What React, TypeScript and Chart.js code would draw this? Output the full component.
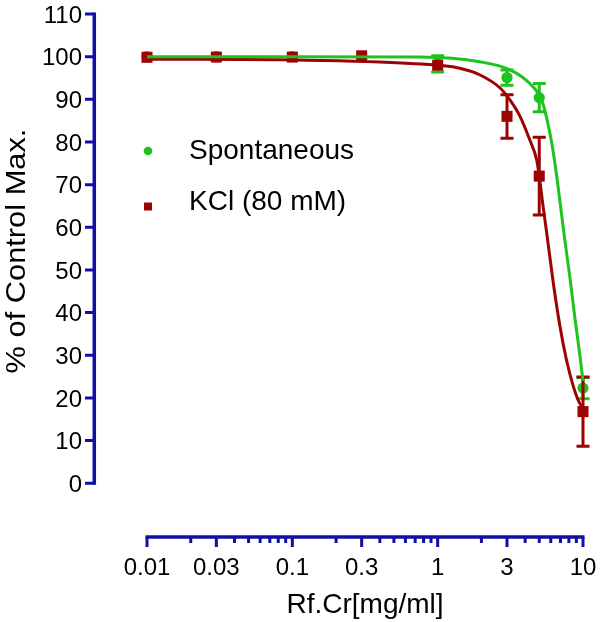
import React, { useEffect, useRef } from "react";
import { Chart, registerables } from "chart.js";

Chart.register(...registerables);

// ---- data ----
const doseX = [0.01, 0.03, 0.1, 0.3, 1, 3, 5, 10];
const spontY = [100, 100, 100, 100, 98.3, 95.1, 90.4, 22.3];
const spontErr = [0, 0, 0, 0, 1.9, 1.8, 3.3, 2.5];
const kclY = [99.85, 99.9, 99.9, 100.2, 98.0, 86.0, 72.0, 16.8];
const kclErr = [0, 0, 0, 0, 0, 5.1, 9.1, 8.1];

// fitted curves, points
const spontFitX = [0.01, 0.1, 0.75, 1.95, 3.15, 4.3, 5.2, 5.6, 6.1, 6.6, 6.95, 7.5, 8.15, 8.8, 9.55, 10];
const spontFitY = [100, 100, 99.9, 98.8, 96.9, 93.7, 89.8, 85.9, 79.7, 71.9, 65.9, 57.0, 47.9, 38.7, 29.6, 24.0];
const kclFitX = [0.01, 0.11, 0.65, 1.42, 1.96, 2.7, 3.15, 3.7, 4.3, 4.8, 5.0, 5.3, 5.63, 6.25, 6.95, 7.7, 8.6, 9.4, 10];
const kclFitY = [99.4, 99.2, 98.4, 97.3, 95.7, 92.6, 89.8, 85.9, 80.5, 75.8, 72.0, 65.2, 58.6, 46.9, 36.7, 28.9, 22.6, 19.0, 17.6];

const xTickValues = [0.01, 0.03, 0.1, 0.3, 1, 3, 10];
const xTickLabels = ["0.01", "0.03", "0.1", "0.3", "1", "3", "10"];
const xMinorTicks = [
  0.02, 0.04, 0.05, 0.06, 0.07, 0.08, 0.09,
  0.2, 0.4, 0.5, 0.6, 0.7, 0.8, 0.9,
  2, 4, 5, 6, 7, 8, 9,
];
const yTickValues = [0, 10, 20, 30, 40, 50, 60, 70, 80, 90, 100, 110];
const yTickLabels = yTickValues.map((v) => String(v));
const seriesNames = ["Spontaneous", "KCl (80 mM)"];
const xTitle = "Rf.Cr[mg/ml]";
const yTitle = "% of Control Max.";

const GREEN = "#1ec31e";
const RED = "#9c0303";
const AXIS = "#1010a6";
const FONT = "'Liberation Sans', Arial, sans-serif";

const errorSets: Record<number, { xs: number[]; ys: number[]; errs: number[]; color: string }> = {
  2: { xs: doseX, ys: kclY, errs: kclErr, color: RED },
  3: { xs: doseX, ys: spontY, errs: spontErr, color: GREEN },
};

const prismPlugin = {
  id: "prismAxes",
  beforeDatasetDraw(chart: any, args: any) {
    const set = errorSets[args.index];
    if (!set) return;
    const { ctx } = chart;
    const xs = chart.scales.x;
    const ys = chart.scales.y;
    ctx.save();
    ctx.strokeStyle = set.color;
    ctx.lineWidth = 3;
    for (let i = 0; i < set.xs.length; i++) {
      const e = set.errs[i];
      if (!e) continue;
      const px = xs.getPixelForValue(set.xs[i]);
      const top = ys.getPixelForValue(set.ys[i] + e);
      const bot = ys.getPixelForValue(set.ys[i] - e);
      ctx.beginPath();
      ctx.moveTo(px, top);
      ctx.lineTo(px, bot);
      ctx.moveTo(px - 6.5, top);
      ctx.lineTo(px + 6.5, top);
      ctx.moveTo(px - 6.5, bot);
      ctx.lineTo(px + 6.5, bot);
      ctx.stroke();
    }
    ctx.restore();
  },
  afterDraw(chart: any) {
    const { ctx } = chart;
    const xs = chart.scales.x;
    const ys = chart.scales.y;
    const area = chart.chartArea;
    ctx.save();
    ctx.strokeStyle = AXIS;
    ctx.lineCap = "butt";

    // Y axis (offset to the left, 0..110 only)
    const yAxisX = 94.3;
    const y0 = ys.getPixelForValue(0);
    const y110 = ys.getPixelForValue(110);
    ctx.lineWidth = 3.5;
    ctx.beginPath();
    ctx.moveTo(yAxisX, y0 + 1.5);
    ctx.lineTo(yAxisX, y110 - 1.5);
    ctx.stroke();
    ctx.lineWidth = 3;
    ctx.beginPath();
    yTickValues.forEach((v) => {
      const py = ys.getPixelForValue(v);
      ctx.moveTo(85, py);
      ctx.lineTo(yAxisX, py);
    });
    ctx.stroke();

    // X axis at bottom of chart area
    const xAxisY = area.bottom;
    const xl = xs.getPixelForValue(xTickValues[0]);
    const xr = xs.getPixelForValue(xTickValues[xTickValues.length - 1]);
    ctx.lineWidth = 3.5;
    ctx.beginPath();
    ctx.moveTo(xl - 1.5, xAxisY);
    ctx.lineTo(xr + 1.5, xAxisY);
    ctx.stroke();
    ctx.lineWidth = 3;
    ctx.beginPath();
    xTickValues.forEach((v) => {
      const px = xs.getPixelForValue(v);
      ctx.moveTo(px, xAxisY);
      ctx.lineTo(px, xAxisY + 10);
    });
    xMinorTicks.forEach((v) => {
      const px = xs.getPixelForValue(v);
      ctx.moveTo(px, xAxisY);
      ctx.lineTo(px, xAxisY + 6);
    });
    ctx.stroke();

    // tick labels
    ctx.fillStyle = "#000";
    ctx.font = `24px ${FONT}`;
    ctx.textBaseline = "alphabetic";
    ctx.textAlign = "right";
    yTickValues.forEach((v, i) => {
      const py = ys.getPixelForValue(v);
      ctx.fillText(yTickLabels[i], 82, py + 8.6);
    });
    ctx.textAlign = "center";
    xTickValues.forEach((v, i) => {
      const px = xs.getPixelForValue(v);
      ctx.fillText(xTickLabels[i], px, 575);
    });

    // axis titles
    ctx.font = `28px ${FONT}`;
    ctx.textAlign = "center";
    ctx.fillText(xTitle, (xl + xr) / 2, 612.5);

    ctx.save();
    ctx.translate(25, 251);
    ctx.rotate(-Math.PI / 2);
    ctx.scale(1.1, 1);
    ctx.textAlign = "center";
    ctx.fillText(yTitle, 0, 0);
    ctx.restore();

    // legend
    ctx.font = `28px ${FONT}`;
    ctx.textAlign = "left";
    ctx.fillStyle = GREEN;
    ctx.beginPath();
    ctx.arc(148, 151, 4.3, 0, Math.PI * 2);
    ctx.fill();
    ctx.fillStyle = RED;
    ctx.fillRect(144, 202.5, 8, 8);
    ctx.fillStyle = "#000";
    ctx.fillText(seriesNames[0], 189, 158.5);
    ctx.fillText(seriesNames[1], 189, 210);

    ctx.restore();
  },
};

export default function App() {
  const canvasRef = useRef<HTMLCanvasElement | null>(null);

  useEffect(() => {
    const canvas = canvasRef.current;
    if (!canvas) return;
    const pts = (xs: number[], ys: number[]) => xs.map((x, i) => ({ x, y: ys[i] }));
    const chart = new Chart(canvas, {
      type: "scatter",
      data: {
        datasets: [
          {
            label: seriesNames[0] + " fit",
            data: pts(spontFitX, spontFitY),
            showLine: true,
            borderColor: GREEN,
            backgroundColor: GREEN,
            borderWidth: 3,
            pointRadius: 0,
            cubicInterpolationMode: "monotone",
            order: 1,
            clip: false,
          },
          {
            label: seriesNames[1] + " fit",
            data: pts(kclFitX, kclFitY),
            showLine: true,
            borderColor: RED,
            backgroundColor: RED,
            borderWidth: 3,
            pointRadius: 0,
            cubicInterpolationMode: "monotone",
            order: 2,
            clip: false,
          },
          {
            label: seriesNames[1],
            data: pts(doseX, kclY),
            showLine: false,
            pointStyle: "rect",
            pointRadius: 7.8,
            pointBackgroundColor: RED,
            pointBorderColor: RED,
            pointBorderWidth: 0,
            order: 3,
            clip: false,
          },
          {
            label: seriesNames[0],
            data: pts(doseX, spontY),
            showLine: false,
            pointStyle: "circle",
            pointRadius: 5.6,
            pointBackgroundColor: GREEN,
            pointBorderColor: GREEN,
            pointBorderWidth: 0,
            order: 4,
            clip: false,
          },
        ] as any,
      },
      options: {
        responsive: false,
        maintainAspectRatio: false,
        animation: false,
        events: [],
        layout: { padding: { left: 147, right: 17, top: 14, bottom: 85 } },
        scales: {
          x: { type: "logarithmic", min: 0.01, max: 10, display: false },
          y: { type: "linear", min: -12.6, max: 110, display: false },
        },
        plugins: {
          legend: { display: false },
          tooltip: { enabled: false },
          title: { display: false },
        },
      },
      plugins: [prismPlugin],
    });
    return () => chart.destroy();
  }, []);

  return (
    <div style={{ position: "absolute", left: 0, top: 0, width: 600, height: 622, background: "#fff" }}>
      <canvas ref={canvasRef} width={600} height={622} style={{ display: "block" }} />
    </div>
  );
}
